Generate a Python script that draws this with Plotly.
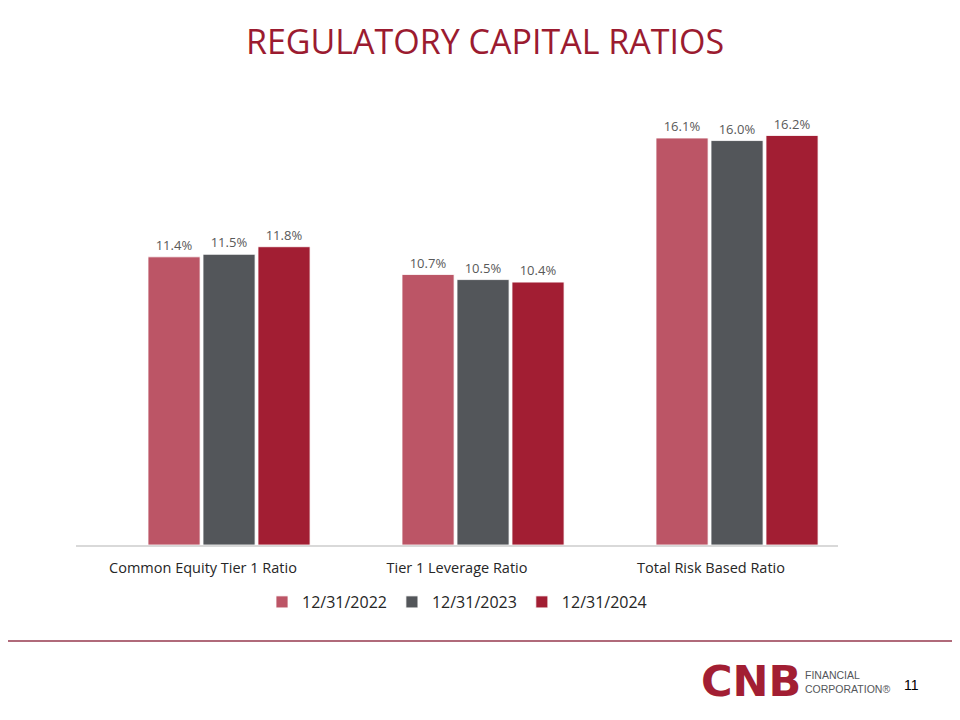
import plotly.graph_objects as go

# Chart values
categories = ["Common Equity Tier 1 Ratio", "Tier 1 Leverage Ratio", "Total Risk Based Ratio"]
series_names = ["12/31/2022", "12/31/2023", "12/31/2024"]
ratios_2022 = [11.4, 10.7, 16.1]
ratios_2023 = [11.5, 10.5, 16.0]
ratios_2024 = [11.8, 10.4, 16.2]
series_values = [ratios_2022, ratios_2023, ratios_2024]

colors = ["#BC5566", "#53565A", "#A21E33"]
offsets = [-0.2165, 0.0, 0.2165]

# the page adds an 8px body margin, so the figure is drawn 8px in
PAD = 8
W, H = 960 - PAD, 720 - PAD
ML, MR, MT, MB = 76 - PAD, 122, 90 - PAD, 175
plot_w = W - ML - MR
plot_h = H - MT - MB


def px_x(px):
    return (px - PAD - ML) / plot_w


def px_y(py):
    return (H - MB - (py - PAD)) / plot_h


fig = go.Figure()
for name, vals, col, off in zip(series_names, series_values, colors, offsets):
    fig.add_trace(go.Bar(
        x=categories, y=vals, name=name,
        marker=dict(color=col, line=dict(color="white", width=0.8)),
        width=0.205, offset=off,
        text=[f"{v:.1f}%" for v in vals], textposition="outside",
        textfont=dict(size=13, color="#595959", family="Open Sans"),
        cliponaxis=False,
    ))

fig.update_layout(
    width=W, height=H,
    margin=dict(l=ML, r=MR, t=MT, b=MB),
    plot_bgcolor="white", paper_bgcolor="white",
    font=dict(family="Open Sans", color="#262626"),
    barmode="overlay",
    title=dict(text="REGULATORY CAPITAL RATIOS", x=(485 - PAD) / W, xref="container", xanchor="center",
               y=1 - (42 - PAD) / H, yref="container", yanchor="middle",
               font=dict(size=34, color="#9B1B30", family="Open Sans")),
    xaxis=dict(showline=True, linecolor="#D9D9D9", linewidth=1.5, ticks="",
               tickfont=dict(size=14.5, color="#262626"), range=[-0.5, 2.5],
               ticklabelstandoff=9),
    yaxis=dict(range=[0, 18], visible=False, showgrid=False),
    legend=dict(orientation="h", x=0.5, xanchor="center", y=px_y(602), yanchor="middle",
                font=dict(size=16, color="#262626"), itemwidth=30, traceorder="normal"),
    showlegend=True,
)

# bottom rule
fig.add_shape(type="line", xref="paper", yref="paper",
              x0=px_x(0), x1=px_x(968), y0=px_y(641), y1=px_y(641),
              line=dict(color="#B06A7A", width=2))

# logo and page number
fig.add_annotation(text="<b>CNB</b>", xref="paper", yref="paper", x=px_x(751), y=px_y(681),
                   xanchor="center", yanchor="middle", showarrow=False,
                   font=dict(size=43, color="#A21E33", family="DejaVu Sans"))
fig.add_annotation(text="FINANCIAL<br>CORPORATION®", xref="paper", yref="paper",
                   x=px_x(803), y=px_y(682), xanchor="left", yanchor="middle", align="left",
                   showarrow=False, font=dict(size=10.5, color="#53565A", family="Liberation Sans"))
fig.add_annotation(text="11", xref="paper", yref="paper", x=px_x(912), y=px_y(685),
                   xanchor="center", yanchor="middle", showarrow=False,
                   font=dict(size=14, color="#000000", family="Liberation Sans"))

fig.write_html("out.html")
